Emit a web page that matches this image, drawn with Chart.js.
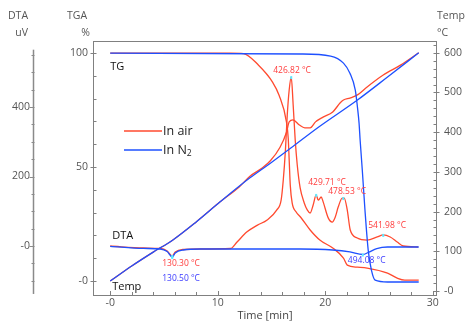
<!DOCTYPE html>
<html>
<head>
<meta charset="utf-8">
<script src="https://cdn.jsdelivr.net/npm/chart.js@4.4.0/dist/chart.umd.min.js"></script>
<style>
  html, body { margin: 0; padding: 0; background: #fff; }
  #wrap { width: 465px; height: 322px; }
</style>
</head>
<body>
<div id="wrap"><canvas id="taChart" width="465" height="322"></canvas></div>
<script>
// Time [min] and values, one pair of arrays per curve
const tgAirTime = [0, 11.2, 12.4, 13.8, 15.1, 15.7, 16.4, 16.56, 16.65, 16.75, 16.93, 17.3, 17.7, 18.6, 19.5, 20.7, 21.7, 22.05, 23.0, 23.9, 25.8, 26.7, 27.4, 28.7];
const tgAirValues = [100, 100, 99.8, 94.7, 87.3, 81.6, 69.7, 62.7, 53.1, 42.1, 34.2, 30.3, 28.1, 22.4, 18.0, 14.5, 10.1, 7.0, 6.1, 5.7, 3.5, 1.3, 0.4, 0.4];

const tgN2Time = [0, 17.7, 20.5, 21.7, 22.3, 22.8, 23.0, 23.15, 23.25, 23.45, 23.7, 24.0, 24.3, 24.65, 25.8, 28.7];
const tgN2Values = [100, 99.6, 98.7, 95.6, 91.2, 83.8, 76.3, 69.3, 61.8, 48.7, 31.1, 13.6, 4.8, 0.4, -0.4, -0.4];

const tempAirTime = [0, 2, 4, 5.8, 8, 10.2, 12, 13, 14.1, 14.9, 15.8, 16.4, 16.65, 17.0, 17.6, 18.1, 18.6, 19.1, 19.8, 20.7, 21.4, 21.7, 22.3, 23.0, 23.9, 25.4, 27.0, 28.7];
const tempAirValues = [25, 63, 98, 128, 174, 224, 262, 289, 309, 328, 362, 400, 426, 431, 418, 411, 411, 426, 438, 451, 474, 481, 486, 494, 514, 544, 569, 600];

const tempN2Time = [0, 2, 4, 5.8, 8, 10.2, 13.0, 14.9, 16.8, 19.4, 23.0, 25.8, 28.7];
const tempN2Values = [25, 63, 98, 128, 174, 224, 285, 322, 360, 413, 481, 539, 600];

const dtaAirTime = [0, 3.1, 4.65, 5.3, 5.77, 6.05, 6.8, 8.4, 11.2, 11.8, 12.7, 13.7, 14.6, 15.5, 15.9, 16.1, 16.3, 16.47, 16.65, 16.84, 17.02, 17.21, 17.4, 17.67, 18.05, 18.33, 18.6, 18.88, 19.16, 19.35, 19.63, 19.81, 20.28, 20.65, 20.93, 21.21, 21.58, 21.77, 22.05, 22.33, 22.98, 23.9, 24.84, 25.4, 26.05, 26.7, 27.26, 28.65];
const dtaAirValues = [0, -5.8, -7.2, -14.4, -28.8, -17.3, -10, -8.6, -7.2, 11.5, 40, 60, 75, 104, 132, 190, 276, 377, 449, 486, 406, 305, 233, 167, 124, 104, 95, 118, 147, 132, 141, 127, 81, 69, 83, 112, 138, 138, 104, 46, 23, 17, 26, 32, 26, 11.5, 0, -2.9];

const dtaN2Time = [0, 3.1, 4.65, 5.3, 5.77, 6.05, 6.8, 8.4, 17.7, 20.7, 22.3, 23.5, 24.0, 24.8, 25.8, 28.7];
const dtaN2Values = [-1, -7, -8.6, -16, -32, -20, -11.5, -8.6, -8.6, -11.5, -17, -24.5, -18.7, -7.2, -2.9, -2.9];

// marked peaks / dips on the DTA curves
const peakTimes = [16.84, 19.16, 21.68, 25.4];
const peakDta = [486, 147, 138, 32];
const peakLabels = ['426.82 °C', '429.71 °C', '478.53 °C', '541.98 °C'];
const dipTimes = [5.77, 5.77, 23.5];
const dipDta = [-28.8, -32, -24.5];
const dipLabels = ['130.30 °C', '130.50 °C', '494.08 °C'];

// tick labels
const timeTicks = [0, 10, 20, 30];
const tgaTicks = [0, 50, 100];
const dtaTicks = [0, 200, 400];
const tempTicks = [0, 100, 200, 300, 400, 500, 600];

const RED = '#ff4a2f';
const BLUE = '#1e50ff';
const AXIS = '#808080';
const TICK_TEXT = '#555';
const FONT = '"Open Sans", "DejaVu Sans", sans-serif';

const toPoints = (times, values) => times.map((t, i) => ({ x: t, y: values[i] }));
const zeroLabel = v => (v === 0 ? '-0' : String(v));

function lineSet(label, times, values, color, axis) {
  return {
    label: label,
    data: toPoints(times, values),
    yAxisID: axis,
    borderColor: color,
    borderWidth: 1.3,
    pointRadius: 0,
    fill: false,
    cubicInterpolationMode: 'monotone'
  };
}

function yAxis(position, min, max, ticks, width, pad, weight) {
  return {
    type: 'linear',
    position: position,
    min: min,
    max: max,
    weight: weight,
    border: { display: false },
    grid: { display: true, drawOnChartArea: false, drawTicks: false, lineWidth: 0 },
    ticks: { color: TICK_TEXT, font: { family: FONT, size: 10.5 }, padding: pad, callback: zeroLabel },
    afterBuildTicks: scale => { scale.ticks = ticks.map(v => ({ value: v })); },
    afterFit: scale => { scale.width = width; }
  };
}

// frame, tick marks, axis titles, labels and legend
const taDecor = {
  id: 'taDecor',
  afterDraw(chart) {
    const ctx = chart.ctx;
    const area = chart.chartArea;
    const sx = chart.scales.x;
    const sTga = chart.scales.tga;
    const sDta = chart.scales.dta;
    const sTemp = chart.scales.temp;
    ctx.save();

    // plot frame
    ctx.strokeStyle = AXIS;
    ctx.lineWidth = 1;
    ctx.strokeRect(Math.round(area.left) + 0.5, Math.round(area.top) + 0.5,
      Math.round(area.right - area.left) - 1, Math.round(area.bottom - area.top));

    ctx.beginPath();
    // time ticks, pointing up into the plot
    for (let t = 0; t <= 30; t += 2) {
      const px = Math.round(sx.getPixelForValue(t)) + 0.5;
      ctx.moveTo(px, area.bottom);
      ctx.lineTo(px, area.bottom - (t % 10 === 0 ? 4 : 3));
    }
    // TGA ticks
    const lx = Math.round(area.left) + 0.5;
    for (let v = 0; v <= 100; v += 10) {
      const py = Math.round(sTga.getPixelForValue(v)) + 0.5;
      if (v % 50 === 0) { ctx.moveTo(lx - 3, py); ctx.lineTo(lx + 3, py); }
      else { ctx.moveTo(lx, py); ctx.lineTo(lx + 3, py); }
    }
    // Temp ticks
    const rx = Math.round(area.right) - 0.5;
    for (let v = 0; v <= 620; v += 20) {
      const py = Math.round(sTemp.getPixelForValue(v)) + 0.5;
      if (v % 100 === 0) { ctx.moveTo(rx - 3, py); ctx.lineTo(rx + 3, py); }
      else { ctx.moveTo(rx - 3, py); ctx.lineTo(rx, py); }
    }
    ctx.stroke();

    // detached DTA axis
    const dx = Math.round(sDta.right) - 0.5;
    ctx.strokeStyle = '#8a8a8a';
    ctx.lineWidth = 1.5;
    ctx.beginPath();
    ctx.moveTo(dx, sDta.getPixelForValue(565));
    ctx.lineTo(dx, sDta.getPixelForValue(-138));
    ctx.stroke();
    ctx.lineWidth = 1;
    ctx.beginPath();
    for (let v = -100; v <= 550; v += 50) {
      const py = Math.round(sDta.getPixelForValue(v)) + 0.5;
      ctx.moveTo(dx - (v % 200 === 0 ? 4 : 2), py);
      ctx.lineTo(dx + 1, py);
    }
    ctx.stroke();

    // axis titles above the y axes
    ctx.fillStyle = TICK_TEXT;
    ctx.font = '10.5px ' + FONT;
    ctx.textBaseline = 'middle';
    ctx.textAlign = 'center';
    ctx.fillText('DTA', 18, 16);
    ctx.fillText('TGA', 77, 16);
    ctx.textAlign = 'right';
    ctx.fillText('uV', 28, 33);
    ctx.fillText('%', 90, 33);
    ctx.textAlign = 'left';
    ctx.fillText('Temp', 437, 16);
    ctx.fillText('°C', 437, 33);

    // curve names
    const x0 = sx.getPixelForValue(0);
    ctx.fillStyle = '#111';
    ctx.font = '11px ' + FONT;
    ctx.fillText('TG', x0, sTga.getPixelForValue(100) + 14);
    ctx.fillText('DTA', x0 + 2, sDta.getPixelForValue(0) - 10);
    ctx.fillText('Temp', x0 + 2, sTemp.getPixelForValue(25) + 6);

    // markers and temperature labels
    const peakOffsets = [[-18, -7], [-8, -12], [-15, -6], [-15, -9]];
    const dipOffsets = [[-10, 8], [-10, 21], [-15, 6]];
    const dipColors = ['#ff3b3b', '#3b3bff', '#3b3bff'];
    ctx.font = '8.5px ' + FONT;
    peakTimes.forEach((t, i) => {
      const px = sx.getPixelForValue(t);
      const py = sDta.getPixelForValue(peakDta[i]);
      ctx.fillStyle = '#5fe8ff';
      ctx.fillRect(px - 1, py - 1, 2, 3);
      ctx.fillStyle = '#ff3b3b';
      ctx.fillText(peakLabels[i], px + peakOffsets[i][0], py + peakOffsets[i][1]);
    });
    dipTimes.forEach((t, i) => {
      const px = sx.getPixelForValue(t);
      const py = sDta.getPixelForValue(dipDta[i]);
      ctx.fillStyle = '#5fe8ff';
      ctx.fillRect(px - 1, py - 1, 2, 3);
      ctx.fillStyle = dipColors[i];
      ctx.fillText(dipLabels[i], px + dipOffsets[i][0], py + dipOffsets[i][1]);
    });

    // legend
    const lgX = area.left + 31;
    const lgY = area.top + 90;
    ctx.lineWidth = 1.3;
    ctx.strokeStyle = RED;
    ctx.beginPath(); ctx.moveTo(lgX, lgY); ctx.lineTo(lgX + 38, lgY); ctx.stroke();
    ctx.strokeStyle = BLUE;
    ctx.beginPath(); ctx.moveTo(lgX, lgY + 19); ctx.lineTo(lgX + 38, lgY + 19); ctx.stroke();
    ctx.fillStyle = '#222';
    ctx.font = '12.5px ' + FONT;
    ctx.fillText('In air', lgX + 39, lgY);
    ctx.fillText('In N', lgX + 39, lgY + 19);
    const nw = ctx.measureText('In N').width;
    ctx.font = '8.5px ' + FONT;
    ctx.fillText('2', lgX + 39 + nw, lgY + 23);

    ctx.restore();
  }
};

const ctx = document.getElementById('taChart').getContext('2d');
new Chart(ctx, {
  type: 'line',
  data: {
    datasets: [
      lineSet('TG N2', tgN2Time, tgN2Values, BLUE, 'tga'),
      lineSet('DTA N2', dtaN2Time, dtaN2Values, BLUE, 'dta'),
      lineSet('Temp N2', tempN2Time, tempN2Values, BLUE, 'temp'),
      lineSet('TG air', tgAirTime, tgAirValues, RED, 'tga'),
      lineSet('DTA air', dtaAirTime, dtaAirValues, RED, 'dta'),
      lineSet('Temp air', tempAirTime, tempAirValues, RED, 'temp')
    ]
  },
  options: {
    responsive: false,
    animation: false,
    events: [],
    layout: { padding: { top: 41, left: 0, right: 0, bottom: 0 } },
    plugins: {
      legend: { display: false },
      tooltip: { enabled: false }
    },
    scales: {
      x: {
        type: 'linear',
        position: 'bottom',
        min: -1.6,
        max: 30.4,
        border: { display: false },
        grid: { display: true, drawOnChartArea: false, drawTicks: false, lineWidth: 0 },
        ticks: { color: TICK_TEXT, font: { family: FONT, size: 10.5 }, padding: 2, maxRotation: 0, callback: zeroLabel },
        title: { display: true, text: 'Time [min]', color: '#444', font: { family: FONT, size: 11 }, padding: { top: 0, bottom: 0 } },
        afterBuildTicks: scale => { scale.ticks = timeTicks.map(v => ({ value: v })); },
        afterFit: scale => { scale.height = 27; }
      },
      dta: yAxis('left', -141, 590, dtaTicks, 34, 4, 1),
      tga: yAxis('left', -6.1, 105.3, tgaTicks, 59, 5, 0),
      temp: yAxis('right', -10.1, 629.7, tempTicks, 28, 7, 0)
    }
  },
  plugins: [taDecor]
});
</script>
</body>
</html>
